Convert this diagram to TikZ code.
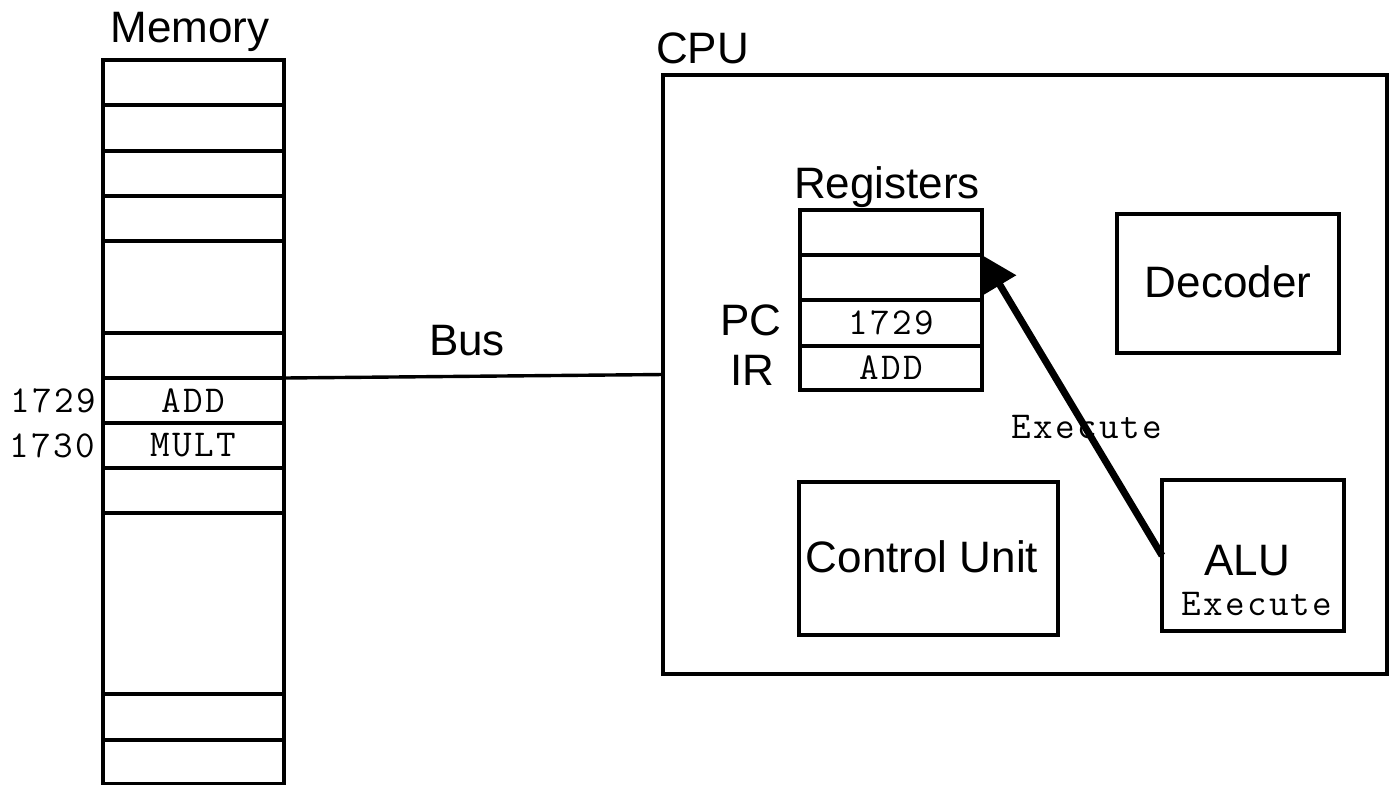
\documentclass[tikz,border=0pt]{standalone}
\usepackage{fontspec}
\setmainfont{Liberation Sans}
\newfontfamily\cour{Latin Modern Mono}[LetterSpace=6]
\usetikzlibrary{arrows.meta}
\begin{document}
\begin{tikzpicture}[x=0.5pt,y=-0.5pt,
  box/.style={draw,line width=2pt,inner sep=0pt,outer sep=0pt,font=\fontsize{22}{26}\selectfont},
  cell/.style={box,minimum width=90.5pt},
  regcell/.style={box,minimum width=91pt},
  lbl/.style={inner sep=0pt,outer sep=0pt,font=\fontsize{22}{26}\selectfont},
  mono/.style={inner sep=0pt,outer sep=0pt,font=\cour\fontsize{19}{22}\selectfont}]
\useasboundingbox (0,0) rectangle (1398,784);

% CPU box
\node[box,minimum width=362pt,minimum height=299.5pt] (cpu) at (1025,374.5) {};
\node[lbl,anchor=base west] (cpulbl) at (656,63) {CPU};

% Memory
\node[lbl,anchor=base] (memlbl) at (190,42) {Memory};
\node[cell,minimum height=22.5pt] (m1) at (193.5,82.5) {};
\node[cell,minimum height=23pt] (m2) at (193.5,128) {};
\node[cell,minimum height=22.5pt] (m3) at (193.5,173.5) {};
\node[cell,minimum height=22.5pt] (m4) at (193.5,218.5) {};
\node[cell,minimum height=46pt] (m5) at (193.5,287) {};
\node[cell,minimum height=22.5pt] (m6) at (193.5,355.5) {};
\node[cell,minimum height=22.5pt] (m7) at (193.5,400.5) {};
\node[cell,minimum height=22.5pt] (m8) at (193.5,445.5) {};
\node[cell,minimum height=22.5pt] (m9) at (193.5,490.5) {};
\node[cell,minimum height=90.5pt] (m10) at (193.5,603.5) {};
\node[cell,minimum height=23pt] (m11) at (193.5,717) {};
\node[cell,minimum height=22pt] (m12) at (193.5,762) {};
\node[mono] (madd) at (m7.center) {ADD};
\node[mono] (mmult) at (m8.center) {MULT};
\node[mono,anchor=east] (a1729) at (96,400.5) {1729};
\node[mono,anchor=east] (a1730) at (95,445.5) {1730};

% Bus
\draw[line width=1.7pt] (m7.north east) -- (cpu.west);
\node[lbl,anchor=base] (buslbl) at (467,355) {Bus};

% Registers
\node[lbl,anchor=base] (reglbl) at (887,198) {Registers};
\node[regcell,minimum height=22.5pt] (r1) at (891,232.5) {};
\node[regcell,minimum height=22.5pt] (r2) at (891,277.5) {};
\node[regcell,minimum height=23pt] (r3) at (891,323) {};
\node[regcell,minimum height=22pt] (r4) at (891,368) {};
\node[mono] (pcval) at (r3.center) {1729};
\node[mono] (irval) at (r4.center) {ADD};
\node[lbl,anchor=base] (pclbl) at (751,335) {PC};
\node[lbl,anchor=base] (irlbl) at (752,385) {IR};

% Decoder, Control Unit, ALU
\node[box,minimum width=111pt,minimum height=69.5pt] (dec) at (1228,283.5) {};
\node[lbl,anchor=base] (declbl) at (1228,297) {Decoder};
\node[box,minimum width=129.5pt,minimum height=76.5pt] (cu) at (928.5,558.5) {};
\node[lbl,anchor=base] (culbl) at (922,572) {Control Unit};
\node[box,minimum width=91pt,minimum height=75.5pt] (alu) at (1253,555.5) {};
\node[lbl,anchor=base] (alulbl) at (1247,575) {ALU};
\node[mono,anchor=base] (aluexe) at (1257,615) {Execute};

% Execute arrow
\node[mono,anchor=base] (exelbl) at (1087,438) {Execute};
\draw[line width=3.5pt,-{Triangle[length=17.5pt,width=18pt]}] (alu.west) -- (r1.south east);
\end{tikzpicture}
\end{document}
